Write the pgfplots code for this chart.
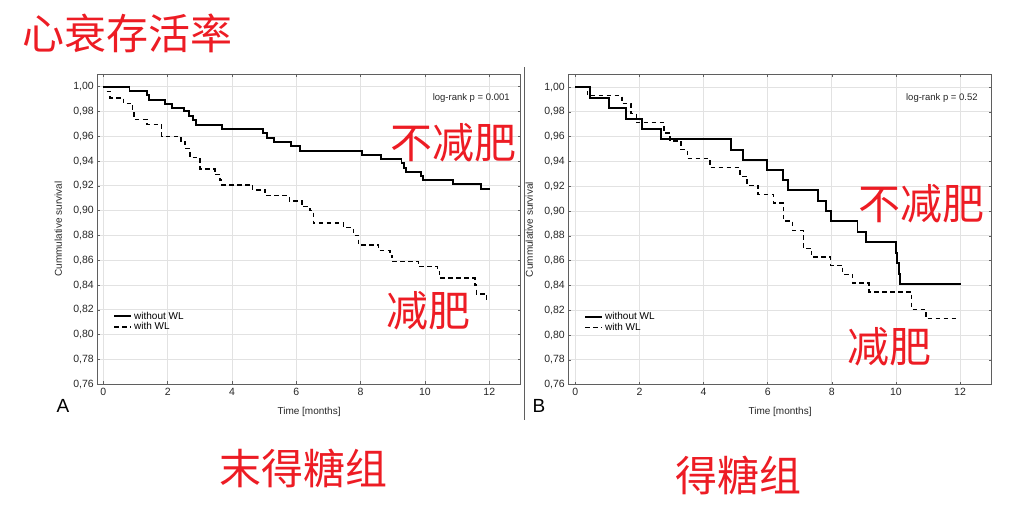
\documentclass[border=0pt]{standalone}
\usepackage{pgfplots}
\pgfplotsset{compat=1.18}
\usepackage{fontspec}
\setmainfont{Liberation Sans}
\newfontfamily\cjk{Noto Sans CJK SC}
\definecolor{cnred}{RGB}{237,28,36}
\definecolor{framegray}{RGB}{95,95,95}
\definecolor{gridgray}{RGB}{226,226,226}

\pgfplotsset{
  kmaxis/.style={
    scale only axis, width=423.5pt, height=310.3pt,
    anchor=south west,
    ymin=0.76, ymax=1.0102,
    xtick={0,2,...,12}, ytick={0.76,0.78,...,1.00},
    grid=major, major grid style={gridgray, line width=0.8pt},
    axis line style={framegray, line width=0.9pt},
    tick align=inside, major tick length=3pt,
    tick style={framegray, line width=0.6pt},
    /pgf/number format/assume math mode=true,
    yticklabel style={/pgf/number format/.cd, fixed, fixed zerofill, precision=2, use comma},
    ticklabel style={font=\fontsize{10.5}{12}\selectfont, text=black!85},
    label style={font=\fontsize{10}{12}\selectfont, text=black!85},
    xlabel={Time [months]}, ylabel={Cummulative survival},
    xlabel style={at={(axis description cs:0.5,-0.088)}, anchor=center},
    ylabel style={at={(axis description cs:-0.092,0.5)}, anchor=center},
    legend cell align=left,
    legend style={draw=none, fill=none, at={(0.03,0.247)}, anchor=north west,
      font=\fontsize{10}{12}\selectfont, row sep=-2pt},
  },
  without/.style={const plot, black, line width=1.9pt},
  withwl/.style={const plot, black, line width=1.4pt, dash pattern=on 4.5pt off 3.5pt},
}

\begin{document}
\begin{tikzpicture}
\path[use as bounding box] (0,0) rectangle (1020pt,519pt);

% panel A
\begin{axis}[kmaxis, at={(97.3pt,134.7pt)}, xmin=-0.19, xmax=12.98]
\addplot[without] coordinates {(0,1.0) (0.81,0.9965) (1.35,0.9933) (1.43,0.9895) (1.92,0.9863) (2.12,0.9828) (2.51,0.980) (2.67,0.9766) (2.80,0.9731) (2.87,0.969) (3.68,0.9656) (4.97,0.9624) (5.08,0.9586) (5.31,0.9554) (5.82,0.9519) (6.11,0.9484) (8.03,0.9452) (8.63,0.942) (9.27,0.9382) (9.35,0.9347) (9.41,0.9315) (9.88,0.928) (9.95,0.9245) (10.86,0.9212) (11.73,0.9177) (12.02,0.9177)};
\addlegendentry{without WL}
\addplot[withwl] coordinates {(0,1.0) (0.10,0.9962) (0.21,0.991) (0.62,0.9866) (0.91,0.980) (0.95,0.9737) (1.35,0.9696) (1.81,0.96) (2.41,0.9556) (2.54,0.950) (2.69,0.943) (3.0,0.9336) (3.47,0.929) (3.63,0.9247) (3.68,0.9207) (4.64,0.9167) (5.03,0.9121) (5.78,0.9078) (6.17,0.9032) (6.42,0.90) (6.53,0.89) (7.46,0.8863) (7.77,0.88) (7.93,0.8723) (8.55,0.868) (8.91,0.864) (8.98,0.8589) (9.79,0.8548) (10.39,0.851) (10.45,0.8457) (11.55,0.840) (11.6,0.8328) (11.92,0.828) (12.0,0.828)};
\addlegendentry{with WL}
\node[anchor=east, font=\fontsize{9.5}{11}\selectfont, text=black!85] at (rel axis cs:0.982,0.922) {log-rank p = 0.001};
\end{axis}

% panel B
\begin{axis}[kmaxis, at={(568.3pt,134.3pt)}, xmin=-0.22, xmax=12.99]
\addplot[without] coordinates {(0,1.0) (0.46,0.9914) (1.06,0.9833) (1.58,0.9745) (2.07,0.9664) (2.66,0.9578) (4.86,0.9495) (5.22,0.9414) (5.99,0.9331) (6.47,0.925) (6.64,0.9167) (7.56,0.9083) (7.82,0.90) (7.98,0.8917) (8.80,0.8831) (9.06,0.875) (9.99,0.8661) (10.04,0.858) (10.1,0.8495) (10.14,0.8414) (12.02,0.8414)};
\addlegendentry{without WL}
\addplot[withwl] coordinates {(0,1.0) (0.38,0.993) (1.45,0.9866) (1.74,0.9785) (1.91,0.9712) (2.77,0.9629) (2.95,0.9565) (3.3,0.9495) (3.5,0.9422) (4.2,0.935) (5.14,0.928) (5.36,0.9207) (5.7,0.9134) (6.18,0.9065) (6.49,0.892) (6.78,0.8844) (7.11,0.870) (7.37,0.863) (7.96,0.8562) (8.34,0.849) (8.65,0.842) (9.16,0.8347) (10.49,0.8204) (10.94,0.8132) (11.98,0.8132)};
\addlegendentry{with WL}
\node[anchor=east, font=\fontsize{9.5}{11}\selectfont, text=black!85] at (rel axis cs:0.975,0.923) {log-rank p = 0.52};
\end{axis}

% separator and panel letters
\draw[framegray, line width=0.9pt] (524pt,99pt) -- (524pt,452pt);
\node[font=\fontsize{19}{20}\selectfont] at (63pt,113.5pt) {A};
\node[font=\fontsize{19}{20}\selectfont] at (539pt,113.5pt) {B};

% red annotations
\begin{scope}[every node/.style={text=cnred, font=\cjk\fontsize{42}{42}\selectfont, inner sep=0pt}]
\node at (127pt,486pt) {心衰存活率};
\node at (453.7pt,376pt) {不减肥};
\node at (428pt,208.5pt) {减肥};
\node at (921pt,315pt) {不减肥};
\node at (889pt,172pt) {减肥};
\node at (303pt,51pt) {末得糖组};
\node at (738pt,43.5pt) {得糖组};
\end{scope}
\end{tikzpicture}
\end{document}
